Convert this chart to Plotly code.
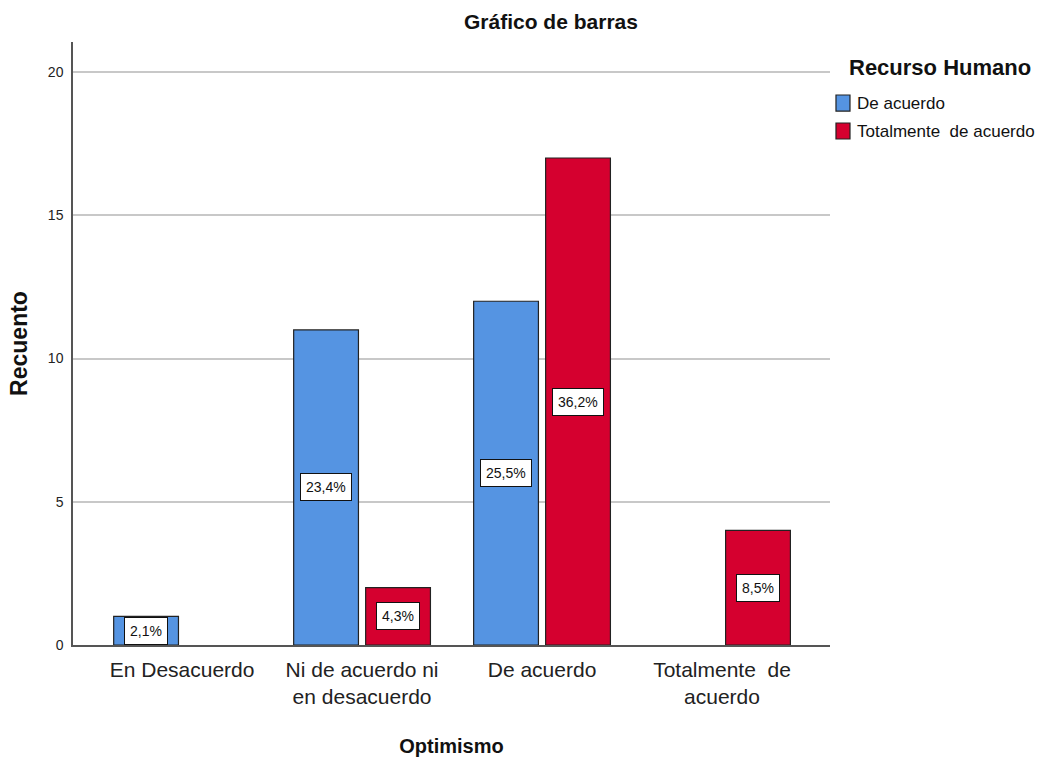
import plotly.graph_objects as go

# Datos
categorias = ["En Desacuerdo", "Ni de acuerdo ni<br>en desacuerdo", "De acuerdo", "Totalmente  de<br>acuerdo"]
series = ["De acuerdo", "Totalmente  de acuerdo"]
recuento_de_acuerdo = [1, 11, 12, None]
recuento_totalmente = [None, 2, 17, 4]
pct_de_acuerdo = ["2,1%", "23,4%", "25,5%", None]
pct_totalmente = [None, "4,3%", "36,2%", "8,5%"]

colores = ["#5594E2", "#D5002F"]
FUENTE = "Liberation Sans, Arial, sans-serif"

x_pos = list(range(len(categorias)))
ancho = 0.36
desplazamientos = [-0.38, 0.02]

fig = go.Figure()

valores = [recuento_de_acuerdo, recuento_totalmente]
etiquetas = [pct_de_acuerdo, pct_totalmente]

for i, nombre in enumerate(series):
    fig.add_trace(go.Bar(
        x=x_pos,
        y=valores[i],
        name=nombre,
        width=ancho,
        offset=desplazamientos[i],
        marker=dict(color=colores[i], line=dict(color="#222222", width=1.2)),
        hoverinfo="y",
    ))

# Etiquetas de porcentaje en el centro de cada barra
for i in range(len(series)):
    for j, txt in enumerate(etiquetas[i]):
        if txt is None or valores[i][j] is None:
            continue
        fig.add_annotation(
            x=x_pos[j] + desplazamientos[i] + ancho / 2,
            y=valores[i][j] / 2,
            text=txt,
            showarrow=False,
            font=dict(family=FUENTE, size=14, color="#111111"),
            bgcolor="white",
            bordercolor="#111111",
            borderwidth=1,
            borderpad=5,
        )

# Leyenda dibujada a mano (estilo SPSS)
fig.add_annotation(
    x=1.0225, y=0.9585, xref="paper", yref="paper",
    xanchor="left", yanchor="middle", showarrow=False,
    text="<b>Recurso Humano</b>",
    font=dict(family=FUENTE, size=22, color="#111111"),
)
leyenda_y = [0.8988, 0.8524]
for i, nombre in enumerate(series):
    fig.add_shape(
        type="rect", xref="paper", yref="paper",
        x0=1.0079, x1=1.0264, y0=leyenda_y[i] - 0.0133, y1=leyenda_y[i] + 0.0133,
        fillcolor=colores[i], line=dict(color="#222222", width=1.2),
    )
    fig.add_annotation(
        x=1.0330, y=leyenda_y[i], xref="paper", yref="paper",
        xanchor="left", yanchor="middle", showarrow=False,
        text=nombre,
        font=dict(family=FUENTE, size=17, color="#111111"),
    )

fig.update_layout(
    width=1038,
    height=760,
    paper_bgcolor="white",
    plot_bgcolor="white",
    margin=dict(l=73, r=208, t=42, b=115),
    font=dict(family=FUENTE, color="#222222"),
    title=dict(
        text="<b>Gráfico de barras</b>",
        x=0.5308, xanchor="center",
        y=0.971, yanchor="middle",
        font=dict(family=FUENTE, size=21, color="#111111"),
    ),
    showlegend=False,
    xaxis=dict(
        range=[-0.606, 3.6],
        tickvals=x_pos,
        ticktext=categorias,
        showgrid=False,
        showline=True,
        linecolor="#555555",
        linewidth=1.5,
        ticks="",
        zeroline=False,
        automargin=False,
        ticklabelstandoff=5,
        tickfont=dict(family=FUENTE, size=21, color="#222222"),
        title=dict(text="<b>Optimismo</b>", standoff=32,
                   font=dict(family=FUENTE, size=20, color="#111111")),
    ),
    yaxis=dict(
        range=[0, 21.05],
        tickvals=[0, 5, 10, 15, 20],
        showgrid=True,
        gridcolor="#C8C8C8",
        gridwidth=1.5,
        showline=True,
        linecolor="#555555",
        linewidth=1.5,
        ticks="",
        zeroline=False,
        automargin=False,
        ticklabelstandoff=5,
        tickfont=dict(family=FUENTE, size=14, color="#222222"),
        title=dict(text="<b>Recuento</b>", standoff=14,
                   font=dict(family=FUENTE, size=23, color="#111111")),
    ),
)

fig.write_html(
    "out.html",
    config={"displayModeBar": False},
    post_script="document.body.style.margin='0px';",
)
